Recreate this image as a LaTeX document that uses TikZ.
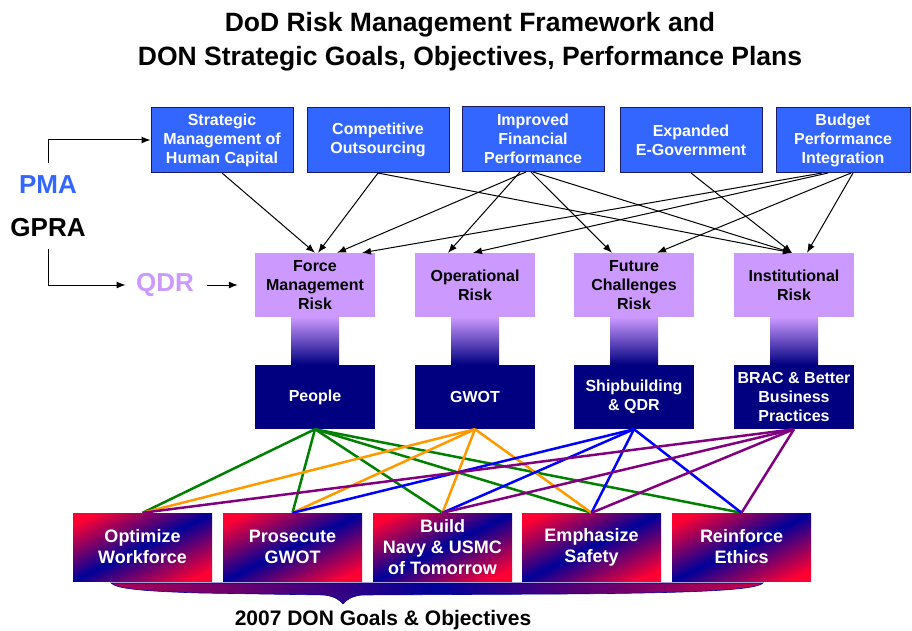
\documentclass[tikz,border=0pt]{standalone}
\usepackage{fontspec}
\setmainfont{Liberation Sans}
\usetikzlibrary{arrows.meta}
\definecolor{plan-blue}{HTML}{3366FF}
\definecolor{plan-edge}{HTML}{1A1A66}
\definecolor{risk-lav}{HTML}{CC99FF}
\definecolor{focus-navy}{HTML}{000080}
\definecolor{goal-red}{HTML}{FF0033}
\definecolor{goal-navy}{HTML}{000099}
\definecolor{tie-green}{HTML}{008000}
\definecolor{tie-orange}{HTML}{FF9900}
\definecolor{tie-blue}{HTML}{0000FF}
\definecolor{tie-purple}{HTML}{800080}
\pgfdeclarehorizontalshading{goal-fade}{100bp}{color(0bp)=(goal-red); color(22bp)=(goal-red); color(50bp)=(goal-navy); color(78bp)=(goal-red); color(100bp)=(goal-red)}
\pgfdeclarehorizontalshading{brace-fade}{100bp}{color(0bp)=(goal-red); color(13bp)=(goal-red); color(50bp)=(goal-navy); color(82bp)=(goal-red); color(100bp)=(goal-red)}
\tikzset{
  plan-box/.style={draw=plan-edge, line width=1pt, fill=plan-blue, text=white, minimum width=142pt, minimum height=65pt, align=center, font=\fontsize{16}{19}\selectfont\bfseries},
  risk-box/.style={fill=risk-lav, minimum width=120pt, minimum height=64pt, align=center, font=\fontsize{16}{19}\selectfont\bfseries},
  focus-box/.style={fill=focus-navy, text=white, minimum width=120pt, minimum height=64pt, align=center, font=\fontsize{16}{19}\selectfont\bfseries},
  goal-box/.style={shading=goal-fade, shading angle=-64, text=white, minimum width=139pt, minimum height=68pt, align=center, font=\fontsize{18}{21}\selectfont\bfseries},
  stem-bar/.style={top color=risk-lav, bottom color=focus-navy},
  big-label/.style={font=\fontsize{26}{30}\selectfont\bfseries},
  link-path/.style={line width=1pt, ->},
  tie-path/.style={line width=2.5pt},
}

\begin{document}
\begin{tikzpicture}[x=1pt, y=-1pt, >={Latex[length=9pt, width=7pt]}]
\useasboundingbox (0, 0) rectangle (912, 631);

\node[align=center, font=\fontsize{26.5}{34}\selectfont\bfseries] at (470, 42) (title)
  {DoD Risk Management Framework and\\DON Strategic Goals, Objectives, Performance Plans};

% plans along the top
\node[plan-box] at (222, 140) (smhc) {Strategic\\Management of\\Human Capital};
\node[plan-box] at (378, 140) (outsrc) {Competitive\\Outsourcing};
\node[plan-box] at (533, 139) (finperf) {Improved\\Financial\\Performance};
\node[plan-box] at (691, 140) (egov) {Expanded\\E-Government};
\node[plan-box, minimum width=134pt] at (843, 140) (budget) {Budget\\Performance\\Integration};

% risk areas and what each one drives
\node[risk-box] at (315, 285) (force) {Force\\Management\\Risk};
\node[risk-box] at (475, 285) (oper) {Operational\\Risk};
\node[risk-box] at (634, 285) (future) {Future\\Challenges\\Risk};
\node[risk-box] at (794, 285) (inst) {Institutional\\Risk};
\node[focus-box] at (315, 397) (people) {People};
\node[focus-box] at (475, 397) (gwot) {GWOT};
\node[focus-box] at (634, 397) (ships) {Shipbuilding\\\& QDR};
\node[focus-box] at (794, 397) (brac) {BRAC \& Better\\Business\\Practices};
\shade[stem-bar] ([xshift=-24pt]force.south) rectangle ([xshift=24pt]people.north);
\shade[stem-bar] ([xshift=-24pt]oper.south) rectangle ([xshift=24pt]gwot.north);
\shade[stem-bar] ([xshift=-24pt]future.south) rectangle ([xshift=24pt]ships.north);
\shade[stem-bar] ([xshift=-24pt]inst.south) rectangle ([xshift=24pt]brac.north);

% goals
\node[goal-box] at (142.5, 547) (optimize) {Optimize\\Workforce};
\node[goal-box] at (292.5, 547) (prosecute) {Prosecute\\GWOT};
\node[goal-box] at (442.5, 547) (build) {Build\\Navy \& USMC\\of Tomorrow};
\node[goal-box] at (591.5, 547) (safety) {Emphasize\\Safety};
\node[goal-box] at (741.5, 547) (ethics) {Reinforce\\Ethics};

% PMA / GPRA / QDR on the left
\node[big-label, text=plan-blue] at (48, 185) (pma) {PMA};
\node[big-label] at (48, 228) (gpra) {GPRA};
\node[big-label, text=risk-lav] at (165, 285) (qdr) {QDR};
\draw[link-path] ([yshift=10pt]pma.north) |- (smhc.west);
\draw[link-path] ([yshift=-8pt]gpra.south) |- ([xshift=-7pt]qdr.west);
\draw[link-path] ([xshift=10pt]qdr.east) -- ([xshift=-17pt]force.west);

% plans -> risk areas
\draw[link-path] (smhc.south) -- (force.north);
\draw[link-path] (outsrc.south) -- ([xshift=3pt]force.north);
\draw[link-path] (outsrc.south) -- ([xshift=-2pt]inst.north);
\draw[link-path] ([xshift=-7pt]finperf.south) -- ([xshift=22pt]force.north);
\draw[link-path] ([xshift=-13pt]finperf.south) -- ([xshift=-27pt]oper.north);
\draw[link-path] ([xshift=-2pt]finperf.south) -- ([xshift=-22pt]future.north);
\draw[link-path] (finperf.south) -- ([xshift=-2pt]inst.north);
\draw[link-path] (egov.south) -- ([xshift=-2pt]inst.north);
\draw[link-path] ([xshift=-21pt]budget.south) -- ([xshift=47pt]force.north);
\draw[link-path] ([xshift=-15pt]budget.south) -- ([xshift=-2pt]oper.north);
\draw[link-path] ([xshift=8pt]budget.south) -- ([xshift=23pt]future.north);
\draw[link-path] ([xshift=10pt]budget.south) -- ([xshift=13pt]inst.north);

% focus areas -> goals
\draw[tie-path, tie-green] (people.south) -- (optimize.north);
\draw[tie-path, tie-green] (people.south) -- (prosecute.north);
\draw[tie-path, tie-green] (people.south) -- (build.north);
\draw[tie-path, tie-green] (people.south) -- (safety.north);
\draw[tie-path, tie-green] (people.south) -- (ethics.north);
\draw[tie-path, tie-orange] (gwot.south) -- (optimize.north);
\draw[tie-path, tie-orange] (gwot.south) -- (prosecute.north);
\draw[tie-path, tie-orange] (gwot.south) -- (build.north);
\draw[tie-path, tie-orange] (gwot.south) -- (safety.north);
\draw[tie-path, tie-blue] (ships.south) -- (prosecute.north);
\draw[tie-path, tie-blue] (ships.south) -- (build.north);
\draw[tie-path, tie-blue] (ships.south) -- (safety.north);
\draw[tie-path, tie-blue] (ships.south) -- (ethics.north);
\draw[tie-path, tie-purple] (brac.south) -- (optimize.north);
\draw[tie-path, tie-purple] (brac.south) -- (build.north);
\draw[tie-path, tie-purple] (brac.south) -- (safety.north);
\draw[tie-path, tie-purple] (brac.south) -- (ethics.north);

% brace under the goals
\shadedraw[shading=brace-fade, draw=goal-navy, line width=0.6pt] (111, 583) -- (763, 583)
  .. controls (756, 590) and (700, 593) .. (560, 594) -- (362, 595)
  .. controls (352, 596) and (346, 600) .. (343, 604)
  .. controls (340, 600) and (334, 596) .. (324, 595) -- (200, 593)
  .. controls (135, 591) and (116, 588) .. (111, 583) -- cycle;
\node[font=\fontsize{21}{25}\selectfont\bfseries] at (383, 620) (goals) {2007 DON Goals \& Objectives};
\end{tikzpicture}
\end{document}
